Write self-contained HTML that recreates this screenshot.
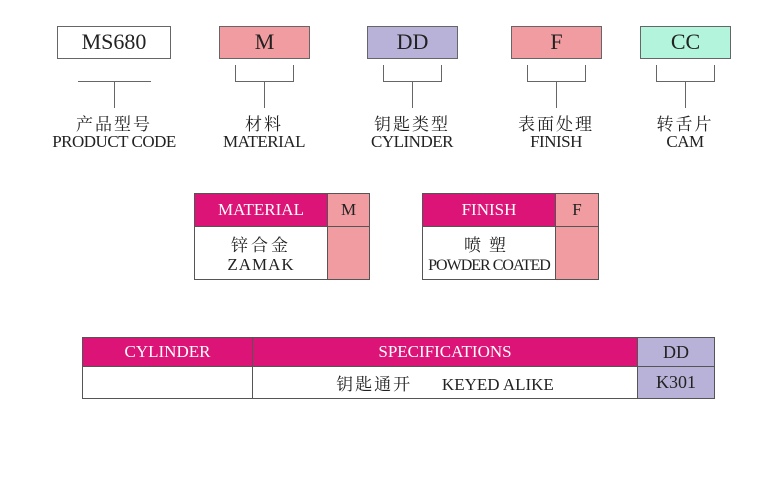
<!DOCTYPE html>
<html><head><meta charset="utf-8"><style>
body{margin:0;width:778px;height:500px;background:#fff;position:relative;overflow:hidden;font-family:"Liberation Serif","Noto Serif CJK SC",serif;color:#222}
.a{position:absolute;box-sizing:border-box}
.box{border:1.5px solid #666;font-size:22px;text-align:center;line-height:29px}
.l{background:#666}
.t{text-align:center;white-space:nowrap;font-size:17px;line-height:17px;letter-spacing:-0.5px}
.cn{font-family:"Noto Serif CJK SC","WenQuanYi Zen Hei",serif;font-size:17px;letter-spacing:2px}
.c{border:1px solid #555;text-align:center;white-space:nowrap}
.mg{background:#dc1477;color:#fff;font-size:17px}
</style></head><body>
<div class="a box" style="left:57px;top:26px;width:114px;height:33px;background:#fff">MS680</div>
<div class="a box" style="left:219px;top:26px;width:91px;height:33px;background:#f09ca0">M</div>
<div class="a box" style="left:367px;top:26px;width:91px;height:33px;background:#b9b2d8">DD</div>
<div class="a box" style="left:511px;top:26px;width:91px;height:33px;background:#f09ca0">F</div>
<div class="a box" style="left:640px;top:26px;width:91px;height:33px;background:#b3f5dc">CC</div>

<div class="a l" style="left:78px;top:81px;width:73px;height:1px"></div>
<div class="a l" style="left:114px;top:81px;width:1px;height:27px"></div>

<div class="a" style="left:235px;top:65px;width:59px;height:17px;border:1px solid #666;border-top:none"></div>
<div class="a l" style="left:264px;top:82px;width:1px;height:26px"></div>
<div class="a" style="left:383px;top:65px;width:59px;height:17px;border:1px solid #666;border-top:none"></div>
<div class="a l" style="left:412px;top:82px;width:1px;height:26px"></div>
<div class="a" style="left:527px;top:65px;width:59px;height:17px;border:1px solid #666;border-top:none"></div>
<div class="a l" style="left:556px;top:82px;width:1px;height:26px"></div>
<div class="a" style="left:656px;top:65px;width:59px;height:17px;border:1px solid #666;border-top:none"></div>
<div class="a l" style="left:685px;top:82px;width:1px;height:26px"></div>

<div class="a t" style="left:14px;top:114px;width:200px"><span class="cn">产品型号</span><br>PRODUCT CODE</div>
<div class="a t" style="left:164px;top:114px;width:200px"><span class="cn">材料</span><br>MATERIAL</div>
<div class="a t" style="left:312px;top:114px;width:200px"><span class="cn">钥匙类型</span><br>CYLINDER</div>
<div class="a t" style="left:456px;top:114px;width:200px"><span class="cn">表面处理</span><br>FINISH</div>
<div class="a t" style="left:585px;top:114px;width:200px"><span class="cn">转舌片</span><br>CAM</div>

<!-- material table -->
<div class="a c mg" style="left:194px;top:193px;width:134px;height:34px;line-height:32px">MATERIAL</div>
<div class="a c" style="left:327px;top:193px;width:43px;height:34px;line-height:32px;background:#f09ca0;font-size:17px">M</div>
<div class="a c" style="left:194px;top:226px;width:134px;height:54px;background:#fff;padding-top:7px;font-size:17px;line-height:19px"><span class="cn" style="letter-spacing:3px">锌合金</span><br><span style="letter-spacing:1px">ZAMAK</span></div>
<div class="a c" style="left:327px;top:226px;width:43px;height:54px;background:#f09ca0"></div>

<div class="a c mg" style="left:422px;top:193px;width:134px;height:34px;line-height:32px">FINISH</div>
<div class="a c" style="left:555px;top:193px;width:44px;height:34px;line-height:32px;background:#f09ca0;font-size:17px">F</div>
<div class="a c" style="left:422px;top:226px;width:134px;height:54px;background:#fff;padding-top:7px;font-size:16px;line-height:19px;letter-spacing:-1px"><span class="cn" style="letter-spacing:8px">喷塑</span><br>POWDER COATED</div>
<div class="a c" style="left:555px;top:226px;width:44px;height:54px;background:#f09ca0"></div>

<!-- bottom table -->
<div class="a c mg" style="left:82px;top:337px;width:171px;height:30px;line-height:28px">CYLINDER</div>
<div class="a c mg" style="left:252px;top:337px;width:386px;height:30px;line-height:28px">SPECIFICATIONS</div>
<div class="a c" style="left:637px;top:337px;width:78px;height:30px;line-height:28px;background:#b9b2d8;font-size:18px">DD</div>
<div class="a c" style="left:82px;top:366px;width:171px;height:33px"></div>
<div class="a c" style="left:252px;top:366px;width:386px;height:33px;line-height:31px;font-size:17px"><span class="cn">钥匙通开</span>&nbsp;&nbsp;&nbsp;&nbsp;&nbsp;&nbsp;&nbsp;KEYED ALIKE</div>
<div class="a c" style="left:637px;top:366px;width:78px;height:33px;line-height:31px;background:#b9b2d8;font-size:18px">K301</div>
</body></html>
